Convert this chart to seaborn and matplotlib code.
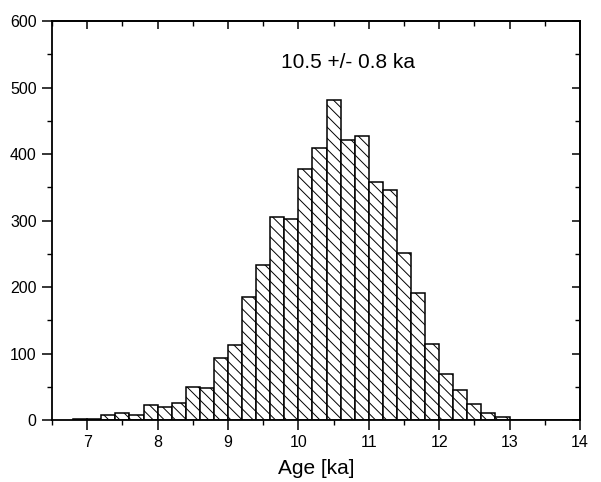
import numpy as np
import pandas as pd
import matplotlib.pyplot as plt
import seaborn as sns
from matplotlib.ticker import MultipleLocator

# histogram of simulated ages, bin width 0.2 ka
bin_edges = [round(6.8 + 0.2 * i, 2) for i in range(37)]
counts = [2, 1, 8, 11, 7, 23, 19, 25, 50, 48, 94, 113, 185, 233, 306, 302,
          377, 409, 481, 421, 428, 358, 346, 252, 191, 114, 69, 45, 24, 11, 5,
          0, 0, 0, 0, 0]
annotation = "10.5 +/- 0.8 ka"

centers = [(a + b) / 2 for a, b in zip(bin_edges[:-1], bin_edges[1:])]
df = pd.DataFrame({"age": centers, "n": counts})

sns.set_style("ticks")
plt.rcParams["font.family"] = ["Liberation Sans", "DejaVu Sans"]
plt.rcParams["hatch.linewidth"] = 0.7
plt.rcParams["hatch.color"] = "black"
plt.rcParams["text.color"] = "black"
plt.rcParams["axes.labelcolor"] = "black"

fig = plt.figure(figsize=(6.01, 4.82), dpi=100)
ax = fig.add_axes([0.0865, 0.1286, 0.8785, 0.8274])

sns.histplot(data=df, x="age", weights="n", bins=bin_edges, ax=ax,
             color="white", edgecolor="black", linewidth=1.1, alpha=1,
             hatch="\\\\\\")

ax.set_xlim(6.5, 14)
ax.set_ylim(0, 600)
ax.xaxis.set_major_locator(MultipleLocator(1))
ax.xaxis.set_minor_locator(MultipleLocator(0.5))
ax.yaxis.set_major_locator(MultipleLocator(100))
ax.yaxis.set_minor_locator(MultipleLocator(50))
ax.tick_params(which="major", direction="out", length=7, width=1.1,
               labelsize=11.5, colors="black", pad=4)
ax.tick_params(which="minor", direction="out", length=3.5, width=1.0, colors="black")
for s in ax.spines.values():
    s.set_visible(True)
    s.set_linewidth(1.3)
    s.set_color("black")

# top and right ticks point inside
top = ax.secondary_xaxis("top")
top.xaxis.set_major_locator(MultipleLocator(1))
top.xaxis.set_minor_locator(MultipleLocator(0.5))
top.tick_params(which="major", direction="in", length=6, width=1.1, labeltop=False, colors="black")
top.tick_params(which="minor", direction="in", length=3.5, width=1.0, colors="black")
top.spines["top"].set_linewidth(1.3)
right = ax.secondary_yaxis("right")
right.yaxis.set_major_locator(MultipleLocator(100))
right.yaxis.set_minor_locator(MultipleLocator(50))
right.tick_params(which="major", direction="in", length=6, width=1.1, labelright=False, colors="black")
right.tick_params(which="minor", direction="in", length=3.5, width=1.0, colors="black")
right.spines["right"].set_linewidth(1.3)

ax.set_xlabel("Age [ka]", fontsize=15, labelpad=6, color="black")
ax.set_ylabel("")
ax.text(10.7, 538, annotation, fontsize=15, ha="center", va="center", color="black")

fig.savefig("out.png", dpi=100)
